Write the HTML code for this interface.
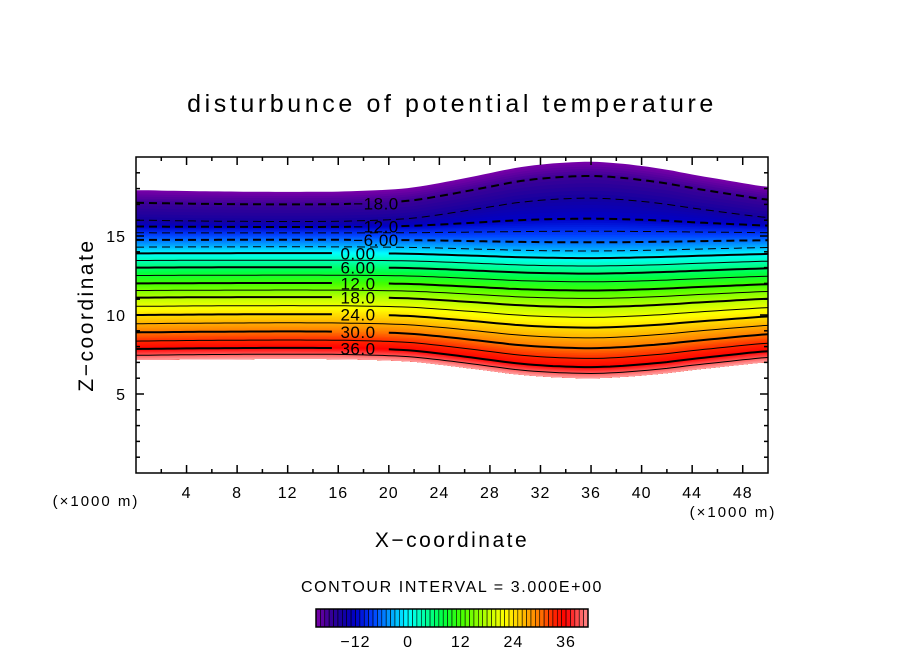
<!DOCTYPE html>
<html><head><meta charset="utf-8"><style>
html,body{margin:0;padding:0;background:#fff;width:904px;height:654px;overflow:hidden}
text{font-family:"Liberation Sans",sans-serif;fill:#000}
</style></head><body>
<svg id="chart" width="904" height="654" viewBox="0 0 904 654">
<text x="452" y="112" font-size="25" text-anchor="middle" letter-spacing="3.6">disturbunce of potential temperature</text>
<g id="field"></g>
<g id="contours"></g>
<g id="clabels"></g>
<rect x="136" y="157" width="632" height="316" fill="none" stroke="#000" stroke-width="1.5"/>
<g id="ticks"></g>
<g id="xlabels"></g>
<g id="ylabels"></g>
<text x="96" y="506" font-size="15" text-anchor="middle" letter-spacing="2">(×1000 m)</text>
<text x="733" y="517" font-size="15" text-anchor="middle" letter-spacing="2">(×1000 m)</text>
<text x="452" y="547" font-size="21" text-anchor="middle" letter-spacing="2.5">X−coordinate</text>
<text transform="translate(93,315) rotate(-90)" font-size="21" text-anchor="middle" letter-spacing="2.5">Z−coordinate</text>
<text x="452" y="592" font-size="16" text-anchor="middle" letter-spacing="1.6">CONTOUR INTERVAL = 3.000E+00</text>
<g id="cbar"></g>
<g id="cbarlabels"></g>
</svg>
<script>
// data
const levels = [-21,-18,-15,-12,-9,-6,-3,0,3,6,9,12,15,18,21,24,27,30,33,36,39,42];
const baseZ  = [17.9,17.1,16.0,15.6,15.2,14.75,14.3,13.9,13.45,13.0,12.5,12.0,11.55,11.1,10.55,10.0,9.45,8.9,8.35,7.85,7.45,7.15];
const bumpAmp= [1.8,1.7,1.4,0.5,0.1,-0.15,-0.25,-0.3,-0.35,-0.38,-0.4,-0.45,-0.5,-0.6,-0.7,-0.8,-0.9,-1.0,-1.1,-1.15,-1.15,-1.15];
const xsData = [0,4,8,12,16,18,20,22,24,26,28,30,32,34,36,38,40,42,44,46,48,50];
const bump   = [0,-0.03,-0.05,-0.06,-0.05,-0.02,0.02,0.1,0.25,0.42,0.6,0.78,0.9,0.97,1.0,0.95,0.85,0.72,0.55,0.4,0.25,0.12];
const xTicks = [4,8,12,16,20,24,28,32,36,40,44,48];
const yTicks = [5,10,15];
const labelLevels = [-18,-12,-6,0,6,12,18,24,30,36];
const labelTexts = ["−18.0","−12.0","−6.00","0.00","6.00","12.0","18.0","24.0","30.0","36.0"];
const cbarTicks = [-12,0,12,24,36];
const cmapV = [-21,-18,-15,-12,-8,-4,0,4,8,12,18,22,26,30,33,36,39,42];
const cmapC = ["#7a00a8","#3c0096","#1400a0","#0000c8","#0040ff","#00a0ff","#00ffff","#00ffa0","#00ff40","#40ff00","#b8ff00","#ffff00","#ffc000","#ff7800","#ff2800","#ff0000","#ff5a5a","#ffa0a0"];

const NS="http://www.w3.org/2000/svg";
const X0=136,X1=768,Y0=473,Y1=157;
const sx=x=>X0+(x/50)*(X1-X0);
const sy=z=>Y0-(z/20)*(Y0-Y1);
function interp(arrX,arrY,v){
  if(v<=arrX[0])return arrY[0];
  for(let i=1;i<arrX.length;i++){if(v<=arrX[i]){const t=(v-arrX[i-1])/(arrX[i]-arrX[i-1]);return arrY[i-1]+t*(arrY[i]-arrY[i-1]);}}
  return arrY[arrY.length-1];
}
function smooth(arrX,arrY,v){
  if(v<=arrX[0])return arrY[0];
  const n=arrX.length;
  for(let i=1;i<n;i++){if(v<=arrX[i]){
    const t=(v-arrX[i-1])/(arrX[i]-arrX[i-1]);
    const p0=arrY[Math.max(0,i-2)],p1=arrY[i-1],p2=arrY[i],p3=arrY[Math.min(n-1,i+1)];
    return 0.5*((2*p1)+(-p0+p2)*t+(2*p0-5*p1+4*p2-p3)*t*t+(-p0+3*p1-3*p2+p3)*t*t*t);
  }}
  return arrY[n-1];
}
function zOf(v,x){return interp(levels,baseZ,v)+interp(levels,bumpAmp,v)*smooth(xsData,bump,x);}
function hex(c){return [parseInt(c.slice(1,3),16),parseInt(c.slice(3,5),16),parseInt(c.slice(5,7),16)];}
function color(v){
  let i=1;while(i<cmapV.length-1&&v>cmapV[i])i++;
  const t=Math.max(0,Math.min(1,(v-cmapV[i-1])/(cmapV[i]-cmapV[i-1])));
  const a=hex(cmapC[i-1]),b=hex(cmapC[i]);
  return "rgb("+a.map((q,k)=>Math.round(q+t*(b[k]-q))).join(",")+")";
}
const XS=[];for(let x=0;x<=50.001;x+=0.5)XS.push(x);
function linePts(v){return XS.map(x=>[sx(x),sy(zOf(v,x))]);}
// field
const field=document.getElementById('field');
const vmin=levels[0],vmax=levels[levels.length-1];
const bottom=linePts(vmax);
for(let v=vmin;v<vmax;v+=0.5){
  const top=linePts(v);
  const pts=top.concat(bottom.slice().reverse()).map(p=>p[0].toFixed(1)+","+p[1].toFixed(1)).join(" ");
  const pg=document.createElementNS(NS,'polygon');
  pg.setAttribute('points',pts);pg.setAttribute('fill',color(v+0.25));
  
  
  field.appendChild(pg);
}
// contours
const cont=document.getElementById('contours');
for(let v=-18;v<=39;v+=3){
  const lab=labelLevels.indexOf(v)>=0;
  const gap=v<0?[352,400]:[333,384];
  let segs=[],cur=[];
  for(const p of linePts(v)){
    if(lab&&p[0]>gap[0]&&p[0]<gap[1]){if(cur.length)segs.push(cur);cur=[];}else cur.push(p);
  }
  if(cur.length)segs.push(cur);
  for(const s of segs){
    const pl=document.createElementNS(NS,'polyline');
    pl.setAttribute('points',s.map(p=>p[0].toFixed(1)+","+p[1].toFixed(1)).join(" "));
    pl.setAttribute('fill','none');pl.setAttribute('stroke','#000');
    pl.setAttribute('stroke-width',v%6===0?2:1);
    if(v<0)pl.setAttribute('stroke-dasharray','8,5');
    
    
    cont.appendChild(pl);
  }
}
const cl=document.getElementById('clabels');
labelLevels.forEach((v,i)=>{
  const t=document.createElementNS(NS,'text');
  const cx=v<0?376:358;
  t.setAttribute('x',cx);t.setAttribute('y',sy(zOf(v,18))+6);
  t.setAttribute('text-anchor','middle');t.setAttribute('font-size','17');
  t.setAttribute('letter-spacing','0.5');
  t.textContent=labelTexts[i];
  
  
  cl.appendChild(t);
});
// ticks
const tk=document.getElementById('ticks');
function ln(x1,y1,x2,y2){const l=document.createElementNS(NS,'line');l.setAttribute('x1',x1);l.setAttribute('y1',y1);l.setAttribute('x2',x2);l.setAttribute('y2',y2);l.setAttribute('stroke','#000');l.setAttribute('stroke-width','1.5');


tk.appendChild(l);}
for(let x=2;x<50;x+=2){const L=x%4===0?8:4;ln(sx(x),Y0,sx(x),Y0-L);ln(sx(x),Y1,sx(x),Y1+L);}
for(let z=1;z<20;z++){const L=z%5===0?8:4;ln(X0,sy(z),X0+L,sy(z));ln(X1,sy(z),X1-L,sy(z));}
const xl=document.getElementById('xlabels');
xTicks.forEach(x=>{const t=document.createElementNS(NS,'text');t.setAttribute('x',sx(x));t.setAttribute('y',498);t.setAttribute('text-anchor','middle');t.setAttribute('font-size','16');t.setAttribute('letter-spacing','1');t.textContent=x;


xl.appendChild(t);});
const yl=document.getElementById('ylabels');
yTicks.forEach(z=>{const t=document.createElementNS(NS,'text');t.setAttribute('x',126);t.setAttribute('y',sy(z)+6);t.setAttribute('text-anchor','end');t.setAttribute('font-size','16');t.setAttribute('letter-spacing','1');t.textContent=z;


yl.appendChild(t);});
// colorbar
const cb=document.getElementById('cbar');
const C0=316,C1=588,cv0=-21,cv1=41;
const cx=v=>C0+(v-cv0)/(cv1-cv0)*(C1-C0);
for(let v=cv0;v<cv1;v+=1){
  const r=document.createElementNS(NS,'rect');
  r.setAttribute('x',cx(v));r.setAttribute('y',609);r.setAttribute('width',cx(v+1)-cx(v));r.setAttribute('height',18);
  r.setAttribute('fill',color(v+0.5));r.setAttribute('stroke','#000');r.setAttribute('stroke-width','0.6');
  
  
  cb.appendChild(r);
}
const fr=document.createElementNS(NS,'rect');fr.setAttribute('x',C0);fr.setAttribute('y',609);fr.setAttribute('width',C1-C0);fr.setAttribute('height',18);fr.setAttribute('fill','none');fr.setAttribute('stroke','#000');fr.setAttribute('stroke-width','1.5');


cb.appendChild(fr);
const cbl=document.getElementById('cbarlabels');
cbarTicks.forEach(v=>{const t=document.createElementNS(NS,'text');t.setAttribute('x',cx(v));t.setAttribute('y',647);t.setAttribute('text-anchor','middle');t.setAttribute('font-size','16');t.setAttribute('letter-spacing','1');t.textContent=v<0?"−"+(-v):v;


cbl.appendChild(t);});
</script>
</body></html>
